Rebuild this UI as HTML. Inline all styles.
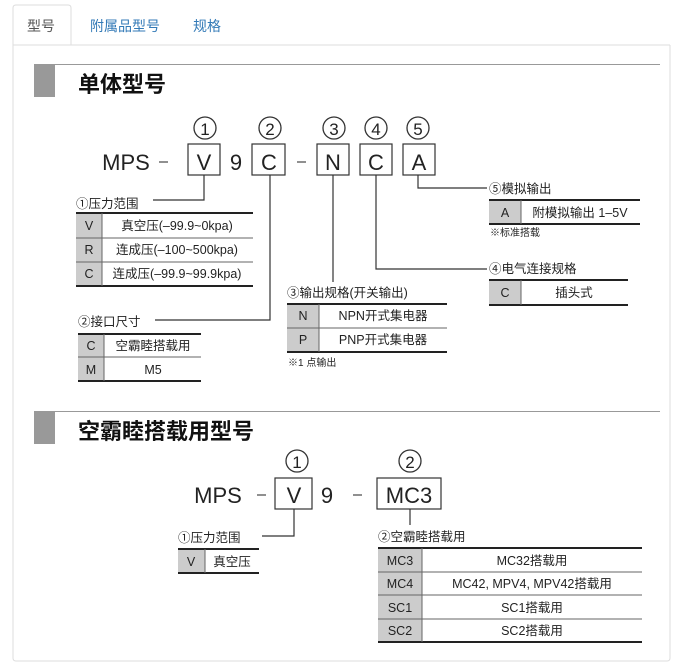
<!DOCTYPE html>
<html><head><meta charset="utf-8"><style>
html,body{margin:0;padding:0;background:#fff;width:697px;height:663px;overflow:hidden}
svg{display:block;font-family:"Liberation Sans","Noto Sans CJK SC",sans-serif}
</style></head><body>
<svg width="697" height="663" viewBox="0 0 697 663" xmlns="http://www.w3.org/2000/svg">
<path d="M13 45 H71 V8 Q71 5 68 5 H16 Q13 5 13 8 Z" fill="#fff" stroke="#ddd"/>
<line x1="71" y1="45" x2="670" y2="45" stroke="#ddd"/>
<path d="M13 45 V658 Q13 661 16 661 H667 Q670 661 670 658 V45" fill="none" stroke="#ddd"/>
<text x="27" y="31" font-size="14" fill="#555">型号</text>
<text x="90" y="31" font-size="14" fill="#337ab7">附属品型号</text>
<text x="193" y="31" font-size="14" fill="#337ab7">规格</text>

<line x1="34" y1="64.5" x2="660" y2="64.5" stroke="#999"/>
<rect x="34" y="65" width="21" height="32" fill="#999"/>
<text x="78" y="92" font-size="22" font-weight="bold" fill="#111">单体型号</text>

<g font-size="22" fill="#222" text-anchor="middle">
<text x="126" y="170">MPS</text>
<text x="204" y="170">V</text>
<text x="236" y="170">9</text>
<text x="269" y="170">C</text>
<text x="333" y="170">N</text>
<text x="376" y="170">C</text>
<text x="419" y="170">A</text>
</g>
<g stroke="#555" stroke-width="1.3"><line x1="159" y1="162" x2="168" y2="162"/><line x1="297" y1="162" x2="306" y2="162"/></g>
<g fill="#222" text-anchor="middle">
<circle cx="205" cy="128" r="11" fill="none" stroke="#333" stroke-width="1.3"/><text x="205" y="135" font-size="17">1</text>
<circle cx="270" cy="128" r="11" fill="none" stroke="#333" stroke-width="1.3"/><text x="270" y="135" font-size="17">2</text>
<circle cx="334" cy="128" r="11" fill="none" stroke="#333" stroke-width="1.3"/><text x="334" y="135" font-size="17">3</text>
<circle cx="376" cy="128" r="11" fill="none" stroke="#333" stroke-width="1.3"/><text x="376" y="135" font-size="17">4</text>
<circle cx="418" cy="128" r="11" fill="none" stroke="#333" stroke-width="1.3"/><text x="418" y="135" font-size="17">5</text>
</g>
<g fill="none" stroke="#333" stroke-width="1.2">
<rect x="188" y="144" width="32" height="31"/>
<rect x="252" y="144" width="33" height="31"/>
<rect x="317" y="144" width="32" height="31"/>
<rect x="360" y="144" width="32" height="31"/>
<rect x="403" y="144" width="32" height="31"/>
<polyline points="204,175 204,200 153,200"/>
<polyline points="270,175 270,320 155,320"/>
<polyline points="333,175 333,282"/>
<polyline points="376,175 376,269 487,269"/>
<polyline points="418,175 418,188 487,188"/>
</g>

<g font-size="12.5" fill="#222">
<text x="76" y="208">①压力范围</text>
<text x="78" y="326">②接口尺寸</text>
<text x="287" y="297">③输出规格(开关输出)</text>
<text x="489" y="273">④电气连接规格</text>
<text x="489" y="193">⑤模拟输出</text>
<text x="288" y="366" font-size="10">※1 点输出</text>
<text x="490" y="236" font-size="10">※标准搭载</text>
</g>

<rect x="76" y="213" width="26" height="73" fill="#ccc"/>
<g stroke="#222"><line x1="76" y1="213" x2="253" y2="213" stroke-width="2"/>
<line x1="76" y1="238" x2="253" y2="238" stroke="#666"/><line x1="76" y1="262" x2="253" y2="262" stroke="#666"/>
<line x1="76" y1="286" x2="253" y2="286" stroke-width="2"/><line x1="102" y1="213" x2="102" y2="286" stroke="#666"/></g>
<g font-size="12.5" fill="#222" text-anchor="middle">
<text x="89" y="230">V</text><text x="89" y="254">R</text><text x="89" y="278">C</text>
<text x="177" y="230">真空压(–99.9~0kpa)</text><text x="177" y="254">连成压(–100~500kpa)</text><text x="177" y="278">连成压(–99.9~99.9kpa)</text>
</g>

<rect x="78" y="334" width="26" height="47" fill="#ccc"/>
<g stroke="#222"><line x1="78" y1="334" x2="201" y2="334" stroke-width="2"/>
<line x1="78" y1="357" x2="201" y2="357" stroke="#666"/>
<line x1="78" y1="381" x2="201" y2="381" stroke-width="2"/><line x1="104" y1="334" x2="104" y2="381" stroke="#666"/></g>
<g font-size="12.5" fill="#222" text-anchor="middle">
<text x="91" y="350">C</text><text x="91" y="374">M</text>
<text x="153" y="350">空霸睦搭载用</text><text x="153" y="374">M5</text>
</g>

<rect x="287" y="304" width="32" height="48" fill="#ccc"/>
<g stroke="#222"><line x1="287" y1="304" x2="447" y2="304" stroke-width="2"/>
<line x1="287" y1="328" x2="447" y2="328" stroke="#666"/>
<line x1="287" y1="352" x2="447" y2="352" stroke-width="2"/><line x1="319" y1="304" x2="319" y2="352" stroke="#666"/></g>
<g font-size="12.5" fill="#222" text-anchor="middle">
<text x="303" y="320">N</text><text x="303" y="344">P</text>
<text x="383" y="320">NPN开式集电器</text><text x="383" y="344">PNP开式集电器</text>
</g>

<rect x="489" y="280" width="32" height="25" fill="#ccc"/>
<g stroke="#222"><line x1="489" y1="280" x2="628" y2="280" stroke-width="2"/>
<line x1="489" y1="305" x2="628" y2="305" stroke-width="2"/><line x1="521" y1="280" x2="521" y2="305" stroke="#666"/></g>
<g font-size="12.5" fill="#222" text-anchor="middle"><text x="505" y="297">C</text><text x="574" y="297">插头式</text></g>

<rect x="489" y="200" width="32" height="24" fill="#ccc"/>
<g stroke="#222"><line x1="489" y1="200" x2="640" y2="200" stroke-width="2"/>
<line x1="489" y1="224" x2="640" y2="224" stroke-width="2"/><line x1="521" y1="200" x2="521" y2="224" stroke="#666"/></g>
<g font-size="12.5" fill="#222" text-anchor="middle"><text x="505" y="217">A</text><text x="580" y="217">附模拟输出 1–5V</text></g>

<line x1="34" y1="411.5" x2="660" y2="411.5" stroke="#999"/>
<rect x="34" y="412" width="21" height="32" fill="#999"/>
<text x="78" y="439" font-size="22" font-weight="bold" fill="#111">空霸睦搭载用型号</text>

<g font-size="22" fill="#222" text-anchor="middle">
<text x="218" y="503">MPS</text>
<text x="294" y="503">V</text>
<text x="327" y="503">9</text>
<text x="409" y="503">MC3</text>
</g>
<g stroke="#555" stroke-width="1.3"><line x1="257" y1="495" x2="266" y2="495"/><line x1="353" y1="495" x2="362" y2="495"/></g>
<g fill="#222" text-anchor="middle">
<circle cx="297" cy="461" r="11" fill="none" stroke="#333" stroke-width="1.3"/><text x="297" y="468" font-size="17">1</text>
<circle cx="410" cy="461" r="11" fill="none" stroke="#333" stroke-width="1.3"/><text x="410" y="468" font-size="17">2</text>
</g>
<g fill="none" stroke="#333" stroke-width="1.2">
<rect x="275" y="478" width="37" height="31"/>
<rect x="377" y="478" width="64" height="31"/>
<polyline points="294,509 294,536 262,536"/>
<polyline points="410,509 410,525"/>
</g>
<g font-size="12.5" fill="#222">
<text x="178" y="542">①压力范围</text>
<text x="378" y="541">②空霸睦搭载用</text>
</g>
<rect x="178" y="549" width="27" height="24" fill="#ccc"/>
<g stroke="#222"><line x1="178" y1="549" x2="259" y2="549" stroke-width="2"/>
<line x1="178" y1="573" x2="259" y2="573" stroke-width="2"/><line x1="205" y1="549" x2="205" y2="573" stroke="#666"/></g>
<g font-size="12.5" fill="#222" text-anchor="middle"><text x="191" y="566">V</text><text x="232" y="566">真空压</text></g>

<rect x="378" y="548" width="44" height="94" fill="#ccc"/>
<g stroke="#222"><line x1="378" y1="548" x2="642" y2="548" stroke-width="2"/>
<line x1="378" y1="572" x2="642" y2="572" stroke="#666"/><line x1="378" y1="595" x2="642" y2="595" stroke="#666"/><line x1="378" y1="619" x2="642" y2="619" stroke="#666"/>
<line x1="378" y1="642" x2="642" y2="642" stroke-width="2"/><line x1="422" y1="548" x2="422" y2="642" stroke="#666"/></g>
<g font-size="12.5" fill="#222" text-anchor="middle">
<text x="400" y="565">MC3</text><text x="400" y="588">MC4</text><text x="400" y="612">SC1</text><text x="400" y="635">SC2</text>
<text x="532" y="565">MC32搭载用</text><text x="532" y="588">MC42, MPV4, MPV42搭载用</text><text x="532" y="612">SC1搭载用</text><text x="532" y="635">SC2搭载用</text>
</g>
</svg>
</body></html>
